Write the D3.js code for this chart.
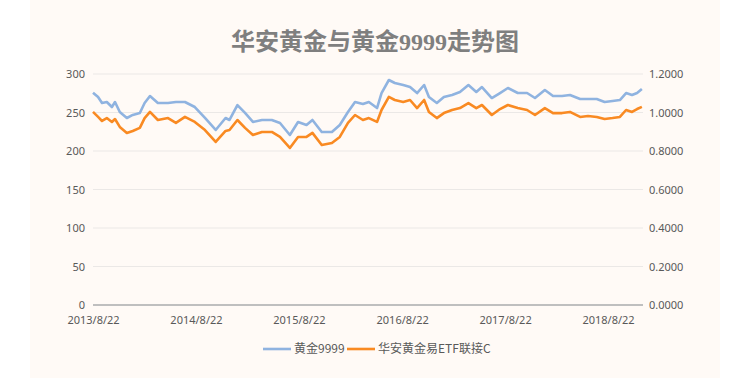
<!DOCTYPE html>
<html>
<head>
<meta charset="utf-8">
<script src="https://cdn.jsdelivr.net/npm/d3@7"></script>
<style>
  body { margin: 0; background: #ffffff; }
  svg { display: block; }
</style>
</head>
<body>
<div id="chart"></div>
<script>
// values
const dates = [
  '2013-08-22', '2013-09-09', '2013-09-23', '2013-10-10', '2013-10-28', '2013-11-08',
  '2013-11-25', '2013-12-20', '2014-01-10', '2014-02-04', '2014-02-21', '2014-03-12',
  '2014-04-09', '2014-05-15', '2014-06-12', '2014-07-14', '2014-08-18', '2014-09-23',
  '2014-10-31', '2014-12-05', '2014-12-19', '2015-01-16', '2015-02-12', '2015-03-12',
  '2015-04-13', '2015-05-18', '2015-06-16', '2015-07-21', '2015-08-19', '2015-09-18',
  '2015-10-09', '2015-11-11', '2015-12-17', '2016-01-14', '2016-02-12', '2016-03-08',
  '2016-04-05', '2016-04-26', '2016-05-25', '2016-06-10', '2016-07-06', '2016-07-27',
  '2016-08-26', '2016-09-19', '2016-10-14', '2016-11-08', '2016-11-25', '2016-12-23',
  '2017-01-17', '2017-02-15', '2017-03-15', '2017-04-14', '2017-05-12', '2017-06-01',
  '2017-07-06', '2017-08-04', '2017-09-01', '2017-10-06', '2017-11-08', '2017-12-06',
  '2018-01-10', '2018-02-08', '2018-03-12', '2018-04-09', '2018-05-15', '2018-06-12',
  '2018-07-13', '2018-08-10', '2018-09-07', '2018-10-03', '2018-10-25', '2018-11-15',
  '2018-12-03', '2018-12-20'
];
// 黄金9999 (left axis)
const gold9999 = [
  275.7, 270.1, 262.3, 263.6, 257.1, 263.6,
  250.6, 242.9, 246.8, 249.4, 262.3, 271.4,
  262.3, 262.3, 263.6, 263.6, 257.1, 242.9,
  227.3, 242.9, 240.3, 259.7, 249.4, 237.7,
  240.3, 240.3, 236.4, 220.8, 237.7, 233.8,
  240.3, 224.7, 224.7, 233.8, 250.6, 263.6,
  261.0, 263.6, 255.8, 275.3, 292.2, 288.3,
  285.7, 283.1, 275.3, 285.7, 270.1, 262.3,
  270.1, 272.7, 276.6, 285.7, 276.6, 283.1,
  268.8, 275.3, 281.8, 275.3, 275.3, 268.8,
  279.2, 271.4, 271.4, 272.7, 267.5, 267.5,
  267.5, 263.6, 264.9, 266.2, 275.3, 272.7,
  275.3, 280.5
];
// 华安黄金易ETF联接C (right axis)
const huaanFund = [
  1.003, 0.977, 0.956, 0.971, 0.951, 0.966,
  0.925, 0.894, 0.904, 0.920, 0.971, 1.003,
  0.961, 0.971, 0.946, 0.977, 0.951, 0.909,
  0.847, 0.904, 0.909, 0.961, 0.920, 0.883,
  0.899, 0.899, 0.873, 0.816, 0.873, 0.873,
  0.894, 0.831, 0.842, 0.873, 0.946, 0.987,
  0.961, 0.971, 0.951, 1.013, 1.081, 1.065,
  1.055, 1.065, 1.023, 1.065, 1.003, 0.971,
  0.997, 1.013, 1.023, 1.049, 1.023, 1.039,
  0.987, 1.018, 1.039, 1.023, 1.013, 0.987,
  1.023, 0.997, 0.997, 1.003, 0.977, 0.982,
  0.977, 0.966, 0.971, 0.977, 1.013, 1.003,
  1.018, 1.029
];
const xTickLabels = ['2013/8/22', '2014/8/22', '2015/8/22', '2016/8/22', '2017/8/22', '2018/8/22'];
const leftTicks = [0, 50, 100, 150, 200, 250, 300];
const rightTicks = [0, 0.2, 0.4, 0.6, 0.8, 1.0, 1.2];
const seriesNames = ['黄金9999', '华安黄金易ETF联接C'];
const seriesColors = ['#8fb3e0', '#f98a22'];

const width = 750, height = 378;
const margin = { top: 74, right: 107, bottom: 73, left: 93 };

const parse = d3.timeParse('%Y-%m-%d');
const data = dates.map((d, i) => ({ date: parse(d), gold: gold9999[i], fund: huaanFund[i] }));

const svg = d3.select('#chart').append('svg')
  .attr('width', width)
  .attr('height', height);

// cream panel
svg.append('rect')
  .attr('x', 30).attr('y', 0)
  .attr('width', 690).attr('height', height)
  .attr('fill', '#fffaf6');

const x = d3.scaleTime()
  .domain([parse('2013-08-22'), parse('2018-12-24')])
  .range([margin.left, width - margin.right]);
const yLeft = d3.scaleLinear().domain([0, 300]).range([height - margin.bottom, margin.top]);
const yRight = d3.scaleLinear().domain([0, 1.2]).range([height - margin.bottom, margin.top]);

// gridlines
svg.append('g')
  .selectAll('line')
  .data(leftTicks.slice(1))
  .join('line')
  .attr('x1', margin.left)
  .attr('x2', width - margin.right)
  .attr('y1', d => yLeft(d))
  .attr('y2', d => yLeft(d))
  .attr('stroke', '#ebe8e6')
  .attr('stroke-width', 1);

// left axis
const leftAxis = svg.append('g')
  .attr('transform', `translate(${margin.left - 8},0)`)
  .call(d3.axisLeft(yLeft).tickValues(leftTicks).tickSize(0).tickPadding(0));
// right axis
const rightAxis = svg.append('g')
  .attr('transform', `translate(${width - margin.right + 6},0)`)
  .call(d3.axisRight(yRight).tickValues(rightTicks).tickSize(0).tickPadding(0).tickFormat(d3.format('.4f')));

// x axis, ticks one year apart from the first date
const xTickDates = xTickLabels.map(s => d3.timeParse('%Y/%m/%d')(s));
const xAxis = svg.append('g')
  .attr('transform', `translate(0,${height - margin.bottom})`)
  .call(d3.axisBottom(x).tickValues(xTickDates).tickSize(0).tickPadding(11)
    .tickFormat((d, i) => xTickLabels[i]));

[leftAxis, rightAxis, xAxis].forEach(g => {
  g.select('.domain').remove();
  g.selectAll('text')
    .attr('fill', '#595959')
    .style('font-family', '"Noto Sans", "Open Sans", sans-serif')
    .style('font-size', '11px');
});

svg.append('line')
  .attr('x1', margin.left)
  .attr('x2', width - margin.right)
  .attr('y1', yLeft(0))
  .attr('y2', yLeft(0))
  .attr('stroke', '#bfbfbf')
  .attr('stroke-width', 2);

// lines
const goldLine = d3.line().x(d => x(d.date)).y(d => yLeft(d.gold));
const fundLine = d3.line().x(d => x(d.date)).y(d => yRight(d.fund));

svg.append('path')
  .datum(data)
  .attr('d', goldLine)
  .attr('fill', 'none')
  .attr('stroke', seriesColors[0])
  .attr('stroke-width', 2.6)
  .attr('stroke-linejoin', 'round');

svg.append('path')
  .datum(data)
  .attr('d', fundLine)
  .attr('fill', 'none')
  .attr('stroke', seriesColors[1])
  .attr('stroke-width', 2.6)
  .attr('stroke-linejoin', 'round');

// title
svg.append('text')
  .attr('x', 375)
  .attr('y', 50)
  .attr('text-anchor', 'middle')
  .attr('fill', '#7f7f7f')
  .style('font-family', '"Liberation Serif", "Noto Sans CJK SC", serif')
  .style('font-weight', 'bold')
  .style('font-size', '24px')
  .text('华安黄金与黄金9999走势图');

// legend
const legendPos = [263, 347];
const legend = svg.append('g');
seriesNames.forEach((name, i) => {
  const lx = legendPos[i];
  legend.append('line')
    .attr('x1', lx).attr('x2', lx + 28)
    .attr('y1', 349).attr('y2', 349)
    .attr('stroke', seriesColors[i])
    .attr('stroke-width', 2.6);
  legend.append('text')
    .attr('x', lx + 31)
    .attr('y', 353)
    .attr('fill', '#595959')
    .style('font-family', '"Noto Sans CJK SC", sans-serif')
    .style('font-size', '12px')
    .text(name);
});
</script>
</body>
</html>
